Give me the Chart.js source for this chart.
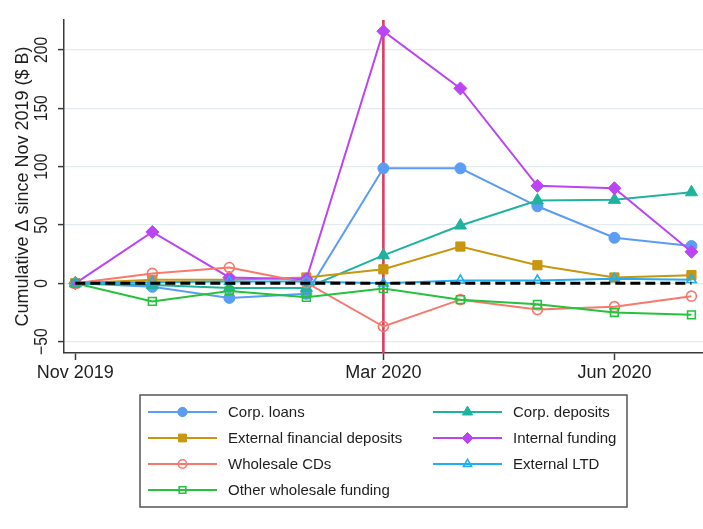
<!DOCTYPE html>
<html>
<head>
<meta charset="utf-8">
<script src="https://cdn.jsdelivr.net/npm/chart.js@4/dist/chart.umd.min.js"></script>
<style>
html,body{margin:0;padding:0;background:#fff;}
canvas{display:block;}
</style>
</head>
<body>
<canvas id="fundingChart" width="703" height="529"></canvas>
<script>
/* DATA: cumulative change since Nov 2019, $ billions */

const months = ["Nov 2019","Dec 2019","Jan 2020","Feb 2020","Mar 2020","Apr 2020","May 2020","Jun 2020","Jul 2020"];
const xTickLabels = ["Nov 2019","Mar 2020","Jun 2020"];
const yTickValues = [-50, 0, 50, 100, 150, 200];
const markerMonth = "Mar 2020";

const corpLoans       = [0, -3, -12.5, -9, 98.5, 98.5, 66, 39, 32];
const corpDeposits    = [0, -1.5, -4, -4, 24, 49.5, 71, 71.5, 78];
const extFinDeposits  = [0, 3, 3, 5, 12, 31.5, 15.5, 5, 7];
const internalFunding = [0, 44, 5, 3.5, 216, 167, 83.5, 81.5, 27];
const wholesaleCDs    = [0, 8.5, 13.5, 0.5, -37, -14, -22.5, -20, -11];
const extLTD          = [0, 1, 1.5, 1.5, 0, 2.5, 2.5, 4, 3];
const otherWholesale  = [0, -15.5, -6.5, -12, -4.5, -14, -18, -25, -27];
const zeroLine        = [0, 0, 0, 0, 0, 0, 0, 0, 0];

const ctx = document.getElementById("fundingChart").getContext("2d");

const sansFont = "'Liberation Sans', Arial, sans-serif";
const axisColor = "#3a3a3a";
const textColor = "#1e1e1e";

function toPoints(values){
  return values.map((v, i) => ({x: i, y: v}));
}

function series(label, values, color, style, radius, hollow, order){
  return {
    label: label,
    data: toPoints(values),
    borderColor: color,
    backgroundColor: color,
    borderWidth: 2,
    pointStyle: style,
    pointRadius: radius,
    pointHoverRadius: radius,
    pointBackgroundColor: hollow ? "rgba(0,0,0,0)" : color,
    pointBorderColor: color,
    pointBorderWidth: hollow ? 1.6 : 1,
    tension: 0,
    fill: false,
    order: order
  };
}

/* plotted bottom to top; legend reads row by row */
const datasets = [
  series("Corp. loans", corpLoans, "#5b9cf6", "circle", 5.5, false, 7),
  series("Corp. deposits", corpDeposits, "#1fb39f", "triangle", 7, false, 6),
  series("External financial deposits", extFinDeposits, "#c8960f", "rect", 6.5, false, 5),
  series("Internal funding", internalFunding, "#bb44f5", "rectRot", 6.5, false, 4),
  series("Wholesale CDs", wholesaleCDs, "#f7786d", "circle", 5, true, 3),
  series("External LTD", extLTD, "#22aef2", "triangle", 5.5, true, 2),
  series("Other wholesale funding", otherWholesale, "#25c23c", "rect", 5.5, true, 1),
  {
    label: "zero",
    data: toPoints(zeroLine),
    borderColor: "#000",
    borderWidth: 3,
    borderDash: [10, 5],
    pointRadius: 0,
    pointHoverRadius: 0,
    fill: false,
    order: 0,
    inLegend: false
  }
];

/* vertical reference line under the series */
const eventLine = {
  id: "eventLine",
  beforeDatasetsDraw(chart){
    const c = chart.ctx;
    const area = chart.chartArea;
    const x = chart.scales.x.getPixelForValue(months.indexOf(markerMonth));
    c.save();
    c.strokeStyle = "#dd3d5e";
    c.lineWidth = 2.6;
    c.beginPath();
    c.moveTo(x, area.top);
    c.lineTo(x, area.bottom);
    c.stroke();
    c.restore();
  }
};

/* rotated y tick labels and axis title */
const yAxisText = {
  id: "yAxisText",
  afterDraw(chart){
    const c = chart.ctx;
    const yScale = chart.scales.y;
    const area = chart.chartArea;
    c.save();
    c.fillStyle = textColor;
    c.textAlign = "center";
    c.textBaseline = "middle";
    c.font = "18px " + sansFont;
    yTickValues.forEach(v => {
      const y = yScale.getPixelForValue(v);
      c.save();
      c.translate(42, y);
      c.rotate(-Math.PI / 2);
      c.scale(0.87, 1);
      c.fillText(v < 0 ? "\u2212" + Math.abs(v) : String(v), 0, 0);
      c.restore();
    });
    c.font = "18px " + sansFont;
    c.translate(23, (area.top + area.bottom) / 2);
    c.rotate(-Math.PI / 2);
    c.fillText("Cumulative \u0394 since Nov 2019 ($ B)", 0, 0);
    c.restore();
  }
};

/* boxed two-column legend below the plot */
const boxLegend = {
  id: "boxLegend",
  afterDraw(chart){
    const c = chart.ctx;
    const box = {left: 140, top: 395, right: 627, bottom: 507};
    c.save();
    c.strokeStyle = "#555";
    c.lineWidth = 1.5;
    c.strokeRect(box.left, box.top, box.right - box.left, box.bottom - box.top);

    const entries = chart.data.datasets.filter(d => d.inLegend !== false);
    entries.forEach((d, i) => {
      const col = i % 2;
      const row = Math.floor(i / 2);
      const x0 = col === 0 ? 148 : 433;
      const y = 412 + row * 26;
      c.strokeStyle = d.borderColor;
      c.lineWidth = 2;
      c.beginPath();
      c.moveTo(x0, y);
      c.lineTo(x0 + 69, y);
      c.stroke();
      c.fillStyle = d.pointBackgroundColor;
      c.strokeStyle = d.pointBorderColor;
      c.lineWidth = d.pointBorderWidth;
      Chart.helpers.drawPoint(c, {
        pointStyle: d.pointStyle,
        radius: d.pointRadius * 0.85,
        rotation: 0,
        borderWidth: d.pointBorderWidth
      }, x0 + 34.5, y);
      c.fillStyle = textColor;
      c.font = "15px " + sansFont;
      c.textAlign = "left";
      c.textBaseline = "middle";
      c.fillText(d.label, x0 + 80, y + 1);
    });
    c.restore();
  }
};

new Chart(ctx, {
  type: "line",
  data: {datasets: datasets},
  options: {
    responsive: false,
    animation: false,
    layout: {autoPadding: false, padding: {top: 20, right: 0, bottom: 146, left: 0}},
    plugins: {
      legend: {display: false},
      tooltip: {enabled: false}
    },
    scales: {
      x: {
        type: "linear",
        min: -0.147,
        max: 8.15,
        afterBuildTicks: s => {
          s.ticks = xTickLabels.map(l => ({value: months.indexOf(l)}));
        },
        afterFit: s => { s.height = 30; },
        ticks: {
          callback: v => months[v],
          autoSkip: false,
          maxRotation: 0,
          padding: 2,
          color: textColor,
          font: {family: sansFont, size: 18}
        },
        grid: {
          drawOnChartArea: false,
          tickLength: 7,
          tickColor: axisColor,
          tickWidth: 1.5
        },
        border: {color: axisColor, width: 1.5}
      },
      y: {
        min: -59.7,
        max: 225.6,
        afterBuildTicks: s => {
          s.ticks = yTickValues.map(v => ({value: v}));
        },
        afterFit: s => { s.width = 64; },
        ticks: {display: false},
        grid: {
          color: "#e2ebee",
          lineWidth: 1.2,
          tickLength: 6,
          tickColor: axisColor,
          tickWidth: 1.5
        },
        border: {color: axisColor, width: 1.5}
      }
    }
  },
  plugins: [eventLine, yAxisText, boxLegend]
});
</script>
</body>
</html>
